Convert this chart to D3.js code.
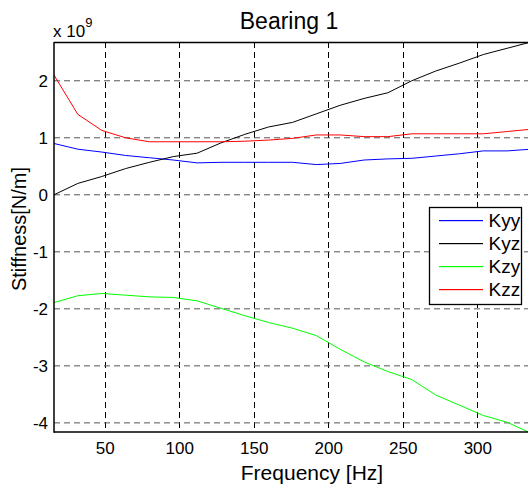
<!DOCTYPE html>
<html>
<head>
<meta charset="utf-8">
<script src="https://cdnjs.cloudflare.com/ajax/libs/d3/7.8.5/d3.min.js"></script>
<style>
  body { margin: 0; background: #fff; }
  text { font-family: "Liberation Sans", Arial, Helvetica, sans-serif; fill: #000; }
</style>
</head>
<body>
<div class="chart"></div>
<script>
// frequency samples [Hz]
var freq = [16, 32, 48, 64, 80, 96, 112, 128, 144, 160, 176, 192, 208, 224, 240, 256, 272, 288, 304, 320, 336];

// stiffness values, x 10^9 N/m
var kyy = [0.90, 0.80, 0.75, 0.69, 0.65, 0.61, 0.56, 0.57, 0.57, 0.57, 0.57, 0.53, 0.55, 0.61, 0.63, 0.64, 0.68, 0.72, 0.77, 0.77, 0.80];
var kyz = [0.00, 0.20, 0.32, 0.46, 0.57, 0.67, 0.73, 0.91, 1.06, 1.19, 1.27, 1.42, 1.57, 1.69, 1.79, 2.00, 2.17, 2.31, 2.46, 2.57, 2.68];
var kzy = [-1.89, -1.77, -1.73, -1.76, -1.79, -1.80, -1.86, -1.99, -2.12, -2.24, -2.34, -2.47, -2.71, -2.93, -3.10, -3.24, -3.51, -3.69, -3.87, -3.99, -4.18];
var kzz = [2.10, 1.41, 1.13, 1.00, 0.93, 0.93, 0.93, 0.93, 0.94, 0.96, 0.99, 1.05, 1.05, 1.02, 1.02, 1.07, 1.07, 1.07, 1.07, 1.11, 1.15];

var seriesNames = ["Kyy", "Kyz", "Kzy", "Kzz"];
var seriesColors = ["#0000ff", "#000000", "#00ff00", "#ff0000"];
var seriesValues = [kyy, kyz, kzy, kzz];

var xTicks = [50, 100, 150, 200, 250, 300];
var yTicks = [-4, -3, -2, -1, 0, 1, 2];

function drawChart(){
var width = 528;
var height = 485;
var left = 54, top = 42, right = 531, bottom = 432;

var svg = d3.select(".chart").append("svg")
    .attr("width", width)
    .attr("height", height);

var x = d3.scaleLinear().domain([16, 336]).range([left, right]);
var y = d3.scaleLinear().domain([-4.16, 2.68]).range([bottom, top]);

svg.append("clipPath").attr("id", "plotclip")
  .append("rect")
    .attr("x", left).attr("y", top)
    .attr("width", right - left).attr("height", bottom - top);

// grid
var grid = svg.append("g");
grid.selectAll(".vgrid")
  .data(xTicks)
  .enter().append("line")
    .attr("x1", function(d) { return Math.round(x(d)) + 0.5; })
    .attr("x2", function(d) { return Math.round(x(d)) + 0.5; })
    .attr("y1", top)
    .attr("y2", bottom)
    .attr("stroke", "#000")
    .attr("stroke-dasharray", "6,4");
grid.selectAll(".hgrid")
  .data(yTicks)
  .enter().append("line")
    .attr("x1", left)
    .attr("x2", right)
    .attr("y1", function(d) { return y(d); })
    .attr("y2", function(d) { return y(d); })
    .attr("stroke", "#555")
    .attr("stroke-dasharray", "6,4");

// data lines
var line = d3.line()
    .x(function(d, i) { return x(freq[i]); })
    .y(function(d) { return y(d); });

svg.append("g").attr("clip-path", "url(#plotclip)")
  .selectAll("path")
  .data(seriesValues)
  .enter().append("path")
    .attr("d", line)
    .attr("fill", "none")
    .attr("stroke", function(d, i) { return seriesColors[i]; })
    .attr("stroke-width", 1);

// axes
var xAxis = svg.append("g")
    .attr("transform", "translate(0," + bottom + ")")
    .call(d3.axisBottom(x).tickValues(xTicks).tickSize(0).tickPadding(10));
var yAxis = svg.append("g")
    .attr("transform", "translate(" + left + ",0)")
    .call(d3.axisLeft(y).tickValues(yTicks).tickSize(0).tickPadding(6)
      .tickFormat(function(d) { return d < 0 ? "-" + Math.abs(d) : d; }));
[xAxis, yAxis].forEach(function(a) {
  a.select(".domain").remove();
  a.selectAll("text").style("font-size", "17px").attr("fill", "#000");
});
xAxis.selectAll("text").attr("dy", "0.71em");

// box
svg.append("line")
    .attr("x1", left).attr("x2", right).attr("y1", top + 0.5).attr("y2", top + 0.5)
    .attr("stroke", "#000").attr("stroke-width", 1.3);
svg.append("line")
    .attr("x1", left).attr("x2", right).attr("y1", bottom).attr("y2", bottom)
    .attr("stroke", "#000").attr("stroke-width", 1.5);
svg.append("line")
    .attr("x1", left).attr("x2", left).attr("y1", top).attr("y2", bottom + 0.7)
    .attr("stroke", "#000").attr("stroke-width", 1.5);

// texts
svg.append("text")
    .attr("x", 289).attr("y", 29)
    .attr("text-anchor", "middle")
    .style("font-size", "23px")
    .text("Bearing 1");
svg.append("text")
    .attr("x", 312).attr("y", 480)
    .attr("text-anchor", "middle")
    .style("font-size", "21px")
    .text("Frequency [Hz]");
svg.append("text")
    .attr("transform", "translate(26,229) rotate(-90)")
    .attr("text-anchor", "middle")
    .style("font-size", "20px")
    .text("Stiffness[N/m]");
var expo = svg.append("text")
    .attr("x", 53).attr("y", 37)
    .style("font-size", "17px");
expo.append("tspan").text("x 10");
expo.append("tspan").attr("dy", -10).style("font-size", "13px").text("9");

// legend
var legendData = seriesNames.map(function(name, i) {
  return { name: name, color: seriesColors[i], row: i };
});
var legend = svg.append("g").attr("transform", "translate(429.5,207.5)");
legend.append("rect")
    .attr("width", 92).attr("height", 97)
    .attr("fill", "#fff")
    .attr("stroke", "#000")
    .attr("stroke-width", 1.3);
var item = legend.selectAll(".item")
  .data(legendData)
  .enter().append("g")
    .attr("class", "item")
    .attr("transform", function(d) { return "translate(0," + (13 + d.row * 23) + ")"; });
item.append("rect")
    .attr("x", 9.5).attr("y", -0.5)
    .attr("width", 44).attr("height", 1.2)
    .attr("fill", function(d) { return d.color; });
item.append("text")
    .attr("x", 59).attr("dy", "0.35em")
    .style("font-size", "19px")
    .text(function(d) { return d.name; });
}
drawChart();
</script>
</body>
</html>
